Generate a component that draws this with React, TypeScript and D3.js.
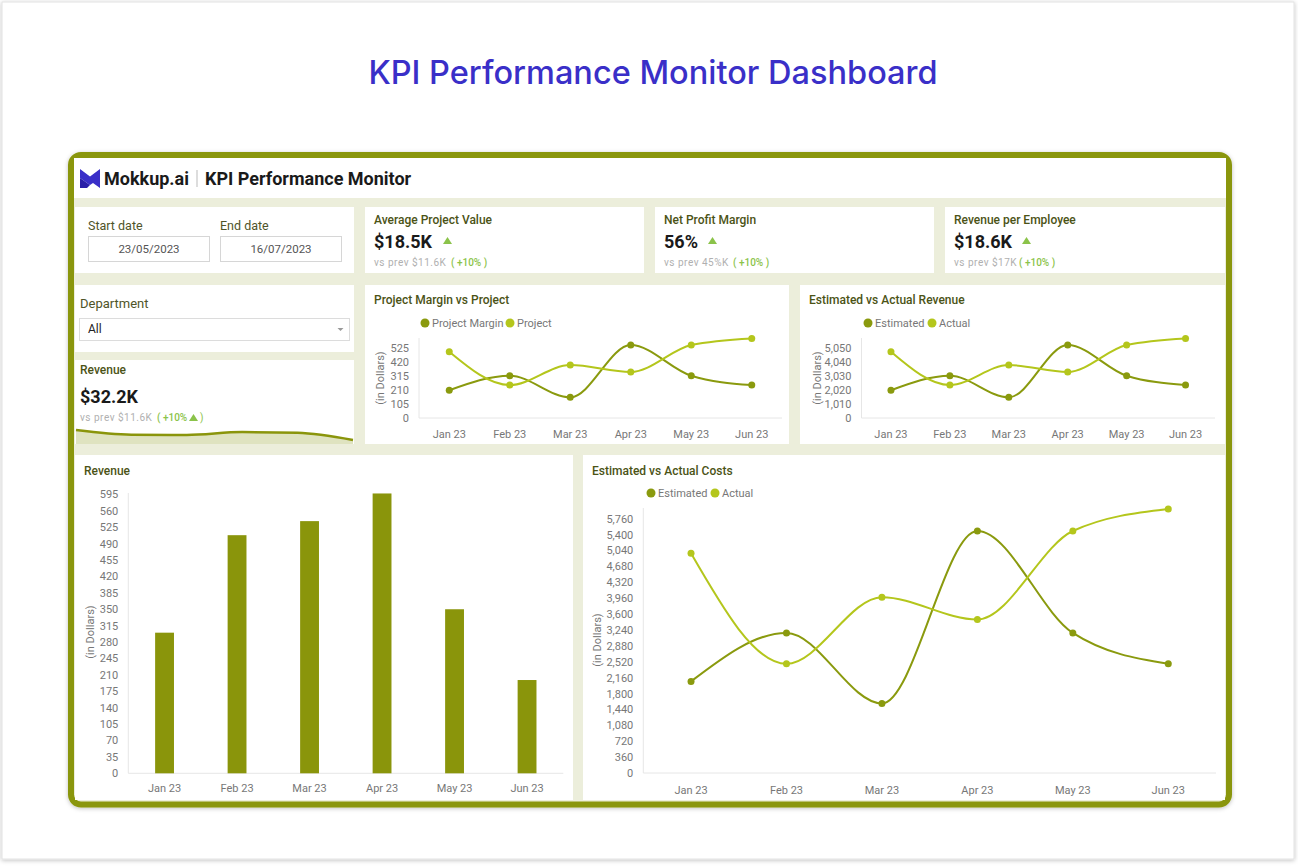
import React from 'react';
import * as d3 from 'd3';

const months = ['Jan 23', 'Feb 23', 'Mar 23', 'Apr 23', 'May 23', 'Jun 23'];

const projectMargin = [208, 317, 155, 547, 317, 247];
const project = [497, 247, 397, 345, 547, 597];
const marginTicks = [0, 105, 210, 315, 420, 525];

const estRevenue = [2000, 3050, 1490, 5260, 3050, 2380];
const actRevenue = [4780, 2380, 3820, 3320, 5260, 5740];
const revenueTicks = [0, 1010, 2020, 3030, 4040, 5050];

const estCosts = [2074, 3172, 1576, 5479, 3172, 2472];
const actCosts = [4975, 2472, 3980, 3476, 5479, 5977];
const costTicks = [0, 360, 720, 1080, 1440, 1800, 2160, 2520, 2880, 3240, 3600, 3960, 4320, 4680, 5040, 5400, 5760];

const revenueBars = [300, 508, 538, 597, 350, 199];
const barTicks = [0, 35, 70, 105, 140, 175, 210, 245, 280, 315, 350, 385, 420, 455, 490, 525, 560, 595];

const sparkRevenue = [7.8, 5.2, 5.0, 6.6, 6.2, 2.2];

const DARK = '#8a9a0e';
const LIGHT = '#b4c61c';
const BAR = '#8a950b';
const TITLE = '#4b5316';
const FONT = 'Roboto, sans-serif';
const fmt = d3.format(',');

const Card = ({ x, y, w, h }: { x: number; y: number; w: number; h: number }) => (
  <rect x={x} y={y} width={w} height={h} fill="#fff" />
);

const Kpi = ({ x, y, title, value, prev, triX }: any) => (
  <g fontFamily={FONT}>
    <text x={x} y={y + 17} fontSize={12} fontWeight={500} fill={TITLE}>{title}</text>
    <text x={x} y={y + 41} fontSize={18} fontWeight={700} fill="#1a1a1a">{value}</text>
    <path d={`M${triX},${y + 37} l4.5,-7 l4.5,7 z`} fill="#8bc34a" />
    <text x={x} y={y + 59} fontSize={10} letterSpacing={0.5} fill="#b0b0b0">{prev}</text>
  </g>
);

const YLabel = ({ x, y }: { x: number; y: number }) => (
  <text transform={`translate(${x},${y}) rotate(-90)`} textAnchor="middle" fontSize={11} fill="#777" fontFamily={FONT}>
    (in Dollars)
  </text>
);

const Legend = ({ y, items }: any) => (
  <g fontFamily={FONT} fontSize={11} fill="#777">
    {items.map((it: any) => (
      <g key={it.label}>
        <circle cx={it.x} cy={y} r={4.5} fill={it.color} />
        <text x={it.x + 7} y={y + 4}>{it.label}</text>
      </g>
    ))}
  </g>
);

interface LineProps {
  x0: number;
  x1: number;
  y0: number;
  y1: number;
  yMax: number;
  ticks: number[];
  series: { values: number[]; color: string }[];
  xLabelY: number;
}

const LineChart = ({ x0, x1, y0, y1, yMax, ticks, series, xLabelY }: LineProps) => {
  const xScale = d3.scalePoint().domain(months).range([x0, x1]).padding(0.5);
  const yScale = d3.scaleLinear().domain([0, yMax]).range([y1, y0]);
  const line = d3
    .line<number>()
    .x((d, i) => xScale(months[i]) as number)
    .y((d) => yScale(d))
    .curve(d3.curveMonotoneX);

  return (
    <g fontFamily={FONT}>
      <line x1={x0} x2={x0} y1={y0} y2={y1} stroke="#e6e6e6" />
      <line x1={x0} x2={x1} y1={y1} y2={y1} stroke="#e6e6e6" />
      {ticks.map((t) => (
        <text key={t} x={x0 - 10} y={yScale(t) + 4} textAnchor="end" fontSize={11} fill="#777">
          {fmt(t)}
        </text>
      ))}
      {months.map((m) => (
        <text key={m} x={xScale(m)} y={xLabelY} textAnchor="middle" fontSize={11} fill="#777">
          {m}
        </text>
      ))}
      {series.map((s, k) => (
        <g key={k}>
          <path d={line(s.values) || ''} fill="none" stroke={s.color} strokeWidth={2} />
          {s.values.map((v, i) => (
            <circle key={i} cx={xScale(months[i])} cy={yScale(v)} r={3.5} fill={s.color} />
          ))}
        </g>
      ))}
    </g>
  );
};

const BarChart = () => {
  const x0 = 128.3;
  const x1 = 563.3;
  const y0 = 493;
  const y1 = 773.3;
  const xScale = d3.scaleBand().domain(months).range([x0, x1]).paddingInner(0.74).paddingOuter(0.37);
  const yScale = d3.scaleLinear().domain([0, 598]).range([y1, y0]);
  return (
    <g fontFamily={FONT}>
      <line x1={x0} x2={x0} y1={y0} y2={y1} stroke="#e6e6e6" />
      <line x1={x0} x2={x1} y1={y1} y2={y1} stroke="#e6e6e6" />
      {barTicks.map((t) => (
        <text key={t} x={x0 - 10} y={yScale(t) + 4} textAnchor="end" fontSize={11} fill="#777">
          {t}
        </text>
      ))}
      {months.map((m, i) => (
        <g key={m}>
          <rect
            x={xScale(m)}
            y={yScale(revenueBars[i])}
            width={xScale.bandwidth()}
            height={y1 - yScale(revenueBars[i])}
            fill={BAR}
          />
          <text x={(xScale(m) as number) + xScale.bandwidth() / 2} y={792} textAnchor="middle" fontSize={11} fill="#777">
            {m}
          </text>
        </g>
      ))}
    </g>
  );
};

const Sparkline = () => {
  const xScale = d3.scalePoint().domain(months).range([76, 353]);
  const yScale = d3.scaleLinear().domain([0, 10]).range([444, 426]);
  const area = d3
    .area<number>()
    .x((d, i) => xScale(months[i]) as number)
    .y0(444)
    .y1((d) => yScale(d))
    .curve(d3.curveMonotoneX);
  const line = area.lineY1();
  return (
    <g>
      <path d={area(sparkRevenue) || ''} fill="#dfe3c0" />
      <path d={line(sparkRevenue) || ''} fill="none" stroke={BAR} strokeWidth={2.5} />
    </g>
  );
};

const App = () => {
  return (
    <svg
      width={1298}
      height={868}
      viewBox="0 0 1298 868"
      style={{ position: 'absolute', left: 0, top: 0, display: 'block' }}
    >
      <defs>
        <filter id="sh" x="-5%" y="-5%" width="110%" height="110%">
          <feDropShadow dx={0} dy={1} stdDeviation={2} floodOpacity={0.25} />
        </filter>
      </defs>
      <rect x={0} y={0} width={1298} height={868} fill="#fff" />
      <rect x={2} y={2} width={1292} height={857} fill="#fff" stroke="#e2e2e2" filter="url(#sh)" />

      <text x={653} y={84} textAnchor="middle" fontFamily="Inter, sans-serif" fontSize={32.5} fontWeight={500} fill="#3a2fc8">
        KPI Performance Monitor Dashboard
      </text>

      {/* dashboard frame */}
      <rect x={71} y={155} width={1158} height={649.5} rx={10} fill="#eceedb" stroke="#8a960b" strokeWidth={6} filter="url(#sh)" />

      {/* header */}
      <rect x={74} y={158} width={1152} height={40} fill="#fff" />
      <path d="M80,169 L90,176.5 L100,169 L100,188 L93,183 L90,185 L80,178 Z" fill="#3a2fc8" />
      <path d="M80,178 L90,185 L87,188 L80,188 Z" fill="#2a1fa8" />
      <text x={104} y={185} fontFamily={FONT} fontSize={18} fontWeight={700} fill="#1a1a1a">
        Mokkup.ai
      </text>
      <line x1={197} x2={197} y1={170} y2={187} stroke="#bbb" strokeWidth={1} />
      <text x={205} y={185} fontFamily={FONT} fontSize={18} fontWeight={700} fill="#1a1a1a">
        KPI Performance Monitor
      </text>

      {/* dates */}
      <Card x={75} y={207} w={279} h={66} />
      <g fontFamily={FONT}>
        <text x={88} y={230} fontSize={12.5} fill="#4f5428">Start date</text>
        <text x={220} y={230} fontSize={12.5} fill="#4f5428">End date</text>
        <rect x={88.5} y={236.5} width={121} height={25} fill="#fff" stroke="#d6d6d6" />
        <rect x={220.5} y={236.5} width={121} height={25} fill="#fff" stroke="#d6d6d6" />
        <text x={149} y={253} textAnchor="middle" fontSize={11.5} fill="#555">23/05/2023</text>
        <text x={281} y={253} textAnchor="middle" fontSize={11.5} fill="#555">16/07/2023</text>
      </g>

      {/* KPI cards */}
      <Card x={365} y={207} w={279} h={66} />
      <Kpi x={374} y={207} title="Average Project Value" value="$18.5K" prev="vs prev $11.6K" triX={443} />
      <text x={451} y={266} fontFamily={FONT} fontSize={10} fontWeight={500} fill="#8bc34a">( +10% )</text>

      <Card x={655} y={207} w={279} h={66} />
      <Kpi x={664} y={207} title="Net Profit Margin" value="56%" prev="vs prev 45%K" triX={708} />
      <text x={733} y={266} fontFamily={FONT} fontSize={10} fontWeight={500} fill="#8bc34a">( +10% )</text>

      <Card x={945} y={207} w={280} h={66} />
      <Kpi x={954} y={207} title="Revenue per Employee" value="$18.6K" prev="vs prev $17K" triX={1022} />
      <text x={1019} y={266} fontFamily={FONT} fontSize={10} fontWeight={500} fill="#8bc34a">( +10% )</text>

      {/* department */}
      <Card x={75} y={285} w={279} h={67} />
      <g fontFamily={FONT}>
        <text x={80} y={308} fontSize={13} fill="#4f5428">Department</text>
        <rect x={79.5} y={318.5} width={270} height={22} fill="#fff" stroke="#dcdcdc" />
        <text x={88} y={333} fontSize={12} fill="#222">All</text>
        <path d="M337.5,328 l3,3 l3,-3 z" fill="#999" />
      </g>

      {/* revenue mini card */}
      <Card x={75} y={360} w={279} h={84} />
      <g fontFamily={FONT}>
        <text x={80} y={374} fontSize={12} fontWeight={500} fill={TITLE}>Revenue</text>
        <text x={80} y={403} fontSize={18} fontWeight={700} fill="#1a1a1a">$32.2K</text>
        <text x={80} y={421} fontSize={10} letterSpacing={0.5} fill="#b0b0b0">vs prev $11.6K</text>
        <text x={157} y={421} fontSize={10} fontWeight={500} fill="#8bc34a">( +10%</text>
        <path d="M189,421 l4.5,-7 l4.5,7 z" fill="#8bc34a" />
        <text x={200} y={421} fontSize={10} fill="#8bc34a">)</text>
      </g>
      <Sparkline />

      {/* Project Margin vs Project */}
      <Card x={365} y={285} w={424} h={159} />
      <text x={374} y={304} fontFamily={FONT} fontSize={12} fontWeight={500} fill={TITLE}>Project Margin vs Project</text>
      <Legend
        y={323}
        items={[
          { x: 425, label: 'Project Margin', color: DARK },
          { x: 510, label: 'Project', color: LIGHT },
        ]}
      />
      <YLabel x={384} y={378} />
      <LineChart
        x0={419}
        x1={782}
        y0={338}
        y1={418}
        yMax={600}
        ticks={marginTicks}
        xLabelY={438}
        series={[
          { values: projectMargin, color: DARK },
          { values: project, color: LIGHT },
        ]}
      />

      {/* Estimated vs Actual Revenue */}
      <Card x={800} y={285} w={425} h={159} />
      <text x={809} y={304} fontFamily={FONT} fontSize={12} fontWeight={500} fill={TITLE}>Estimated vs Actual Revenue</text>
      <Legend
        y={323}
        items={[
          { x: 868, label: 'Estimated', color: DARK },
          { x: 932, label: 'Actual', color: LIGHT },
        ]}
      />
      <YLabel x={821} y={378} />
      <LineChart
        x0={861.5}
        x1={1215}
        y0={338}
        y1={418}
        yMax={5771}
        ticks={revenueTicks}
        xLabelY={438}
        series={[
          { values: estRevenue, color: DARK },
          { values: actRevenue, color: LIGHT },
        ]}
      />

      {/* Revenue bars */}
      <Card x={75} y={455} w={498} h={345} />
      <text x={84} y={475} fontFamily={FONT} fontSize={12} fontWeight={500} fill={TITLE}>Revenue</text>
      <YLabel x={94} y={632} />
      <BarChart />

      {/* Estimated vs Actual Costs */}
      <Card x={583} y={455} w={642} h={345} />
      <text x={592} y={475} fontFamily={FONT} fontSize={12} fontWeight={500} fill={TITLE}>Estimated vs Actual Costs</text>
      <Legend
        y={493}
        items={[
          { x: 651, label: 'Estimated', color: DARK },
          { x: 715, label: 'Actual', color: LIGHT },
        ]}
      />
      <YLabel x={601} y={640} />
      <LineChart
        x0={643.3}
        x1={1216}
        y0={508}
        y1={773}
        yMax={6000}
        ticks={costTicks}
        xLabelY={794}
        series={[
          { values: estCosts, color: DARK },
          { values: actCosts, color: LIGHT },
        ]}
      />
    </svg>
  );
};

export default App;
